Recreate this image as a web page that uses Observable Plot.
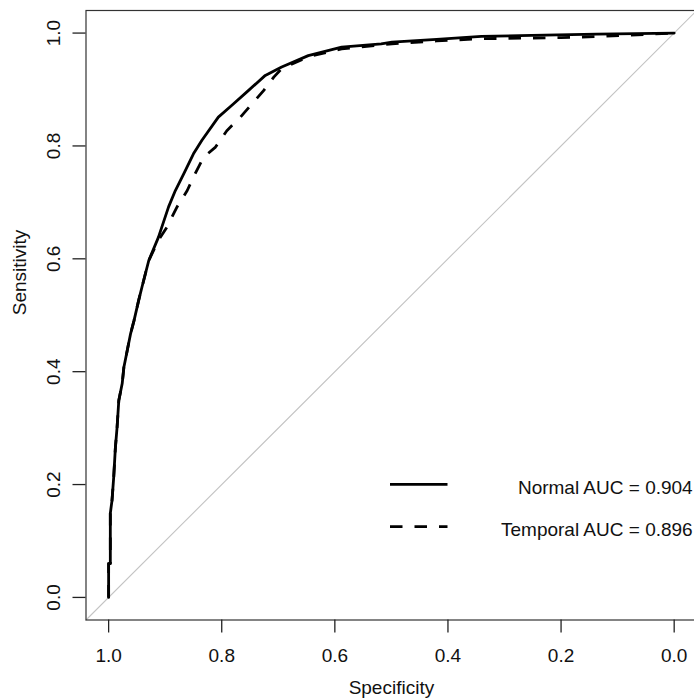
<!DOCTYPE html>
<html>
<head>
<meta charset="utf-8">
<script src="https://cdn.jsdelivr.net/npm/d3@7"></script>
<script src="https://cdn.jsdelivr.net/npm/@observablehq/plot@0.6"></script>
<style>
  html, body { margin: 0; padding: 0; background: #fff; overflow: hidden; }
  #wrap { position: relative; width: 694px; height: 698px; overflow: hidden; }
  #legend { position: absolute; left: 0; top: 0; pointer-events: none; }
</style>
</head>
<body>
<div id="wrap"></div>
<script>
// ---- Data ----
const normalSpec = [1.000, 1.000, 0.997, 0.997, 0.994, 0.991, 0.988, 0.985, 0.982, 0.976, 0.973, 0.967, 0.961, 0.955, 0.947, 0.941, 0.929, 0.912, 0.894, 0.882, 0.867, 0.850, 0.835, 0.806, 0.782, 0.753, 0.723, 0.694, 0.647, 0.588, 0.518, 0.499, 0.420, 0.341, 0.252, 0.137, 0.000];
const normalSens = [0.000, 0.060, 0.060, 0.149, 0.172, 0.213, 0.266, 0.302, 0.349, 0.379, 0.408, 0.438, 0.468, 0.491, 0.526, 0.550, 0.597, 0.638, 0.692, 0.721, 0.751, 0.786, 0.810, 0.851, 0.872, 0.898, 0.925, 0.940, 0.960, 0.975, 0.981, 0.984, 0.989, 0.994, 0.996, 0.998, 1.000];

const temporalSpec = [1.000, 1.000, 0.997, 0.997, 0.994, 0.991, 0.988, 0.985, 0.982, 0.976, 0.973, 0.967, 0.961, 0.955, 0.947, 0.941, 0.929, 0.912, 0.897, 0.879, 0.861, 0.847, 0.832, 0.811, 0.791, 0.767, 0.746, 0.726, 0.708, 0.694, 0.647, 0.588, 0.518, 0.499, 0.420, 0.341, 0.200, 0.129, 0.000];
const temporalSens = [0.000, 0.060, 0.060, 0.149, 0.172, 0.213, 0.266, 0.302, 0.349, 0.379, 0.408, 0.438, 0.468, 0.491, 0.526, 0.550, 0.597, 0.633, 0.656, 0.692, 0.721, 0.751, 0.780, 0.798, 0.827, 0.851, 0.875, 0.898, 0.922, 0.937, 0.958, 0.972, 0.979, 0.981, 0.986, 0.990, 0.992, 0.994, 1.000];

const xTicks = [1.0, 0.8, 0.6, 0.4, 0.2, 0.0];
const yTicks = [0.0, 0.2, 0.4, 0.6, 0.8, 1.0];
const xLabel = "Specificity";
const yLabel = "Sensitivity";
const seriesNames = ["Normal", "Temporal"];
const legendLabels = ["Normal AUC = 0.904", "Temporal AUC = 0.896"];
const seriesDash = ["none", "12.5,12"];

// ---- Build tables ----
const normal = normalSpec.map((s, i) => ({series: seriesNames[0], spec: s, sens: normalSens[i]}));
const temporal = temporalSpec.map((s, i) => ({series: seriesNames[1], spec: s, sens: temporalSens[i]}));

// R-style 4% padding around [0,1]
const xDomain = [1.04, -0.04];
const yDomain = [-0.04, 1.04];
const diagonal = xDomain.slice();

const FONT = '"Liberation Sans", Arial, Helvetica, sans-serif';
const fmt = d3.format(".1f");

const W = 694, H = 698;
const mL = 85.5, mR = -2.3, mT = 10, mB = 78.5;

const chart = Plot.plot({
  width: W,
  height: H,
  marginLeft: mL,
  marginRight: mR,
  marginTop: mT,
  marginBottom: mB,
  style: {fontFamily: FONT, fontSize: "19px", background: "#fff", color: "#111"},
  x: {domain: xDomain},
  y: {domain: yDomain},
  marks: [
    Plot.line(diagonal, {x: d => d, y: d => 1 - d, stroke: "#c4c4c4", strokeWidth: 1.1}),
    Plot.line(normal, {x: "spec", y: "sens", stroke: "#000", strokeWidth: 2.8, strokeLinejoin: "round", strokeLinecap: "round"}),
    Plot.line(temporal, {x: "spec", y: "sens", stroke: "#000", strokeWidth: 2.8, strokeDasharray: seriesDash[1], strokeLinejoin: "round", strokeLinecap: "butt"}),
    Plot.frame({stroke: "#333", strokeWidth: 1.2}),
    Plot.axisX({ticks: xTicks, tickFormat: fmt, tickSize: 13, tickPadding: 15.5, stroke: "#222", strokeWidth: 1.3, fill: "#111", fontSize: 19, label: null}),
    Plot.axisY({ticks: yTicks, tickFormat: fmt, tickSize: 13, tickPadding: 13.5, tickRotate: -90, stroke: "#222", strokeWidth: 1.3, fill: "#111", fontSize: 19, label: null}),
    Plot.text([xLabel], {text: d => d, frameAnchor: "bottom", lineAnchor: "bottom", dy: 74, fontSize: 19, fill: "#111"}),
    Plot.text([yLabel], {text: d => d, frameAnchor: "left", lineAnchor: "bottom", rotate: -90, dx: -60.5, fontSize: 19, fill: "#111"})
  ]
});

const wrap = document.getElementById("wrap");
wrap.appendChild(chart);

// ---- Legend (drawn inside the plot area, as in the reference) ----
const leg = d3.select(wrap).append("svg")
  .attr("id", "legend")
  .attr("width", W).attr("height", H);
const rowsY = [484.3, 526.7];
legendLabels.forEach((lab, i) => {
  leg.append("line")
    .attr("x1", 390).attr("x2", 447.5)
    .attr("y1", rowsY[i]).attr("y2", rowsY[i])
    .attr("stroke", "#000").attr("stroke-width", 2.8)
    .attr("stroke-dasharray", seriesDash[i] === "none" ? null : seriesDash[i]);
  leg.append("text")
    .attr("x", 692.7).attr("y", rowsY[i] + 9.5)
    .attr("text-anchor", "end")
    .attr("font-family", FONT).attr("font-size", 19)
    .attr("fill", "#111")
    .text(lab);
});
</script>
</body>
</html>
